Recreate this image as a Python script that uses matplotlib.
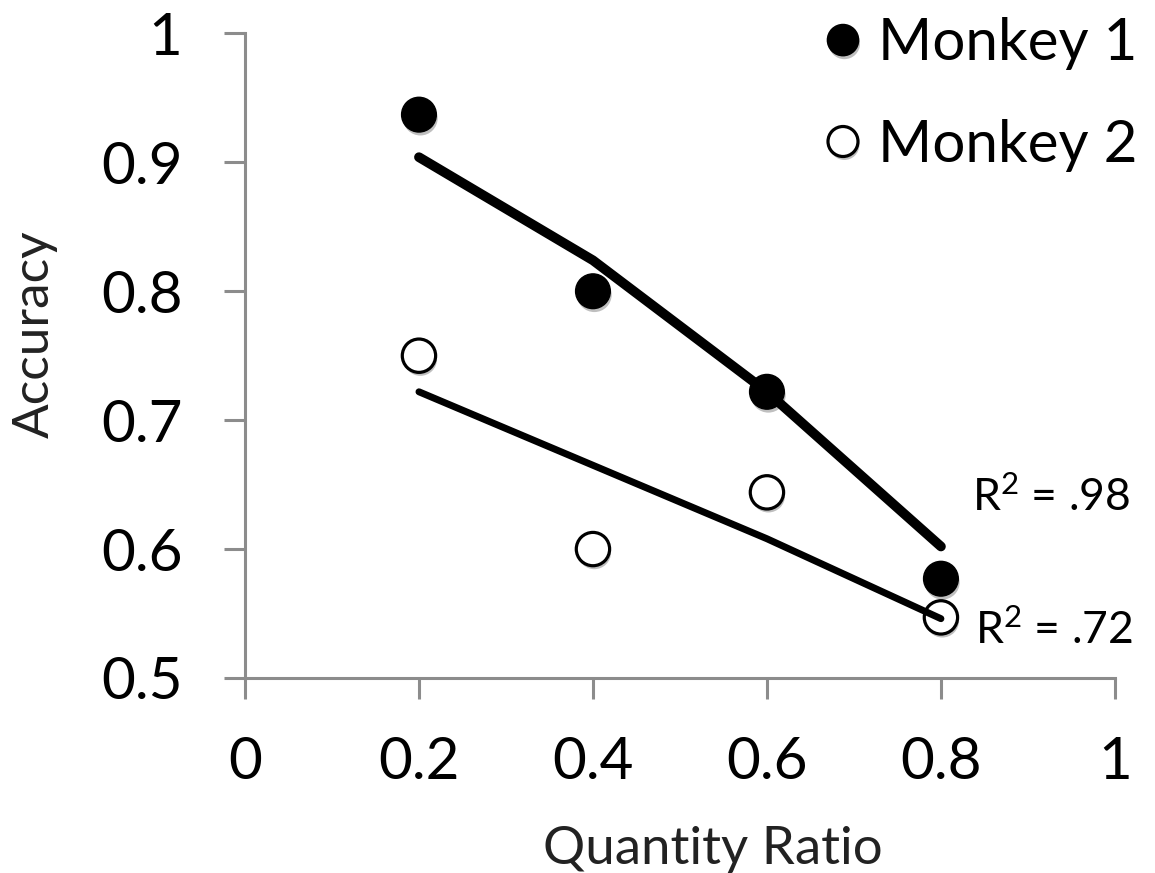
import matplotlib
matplotlib.use('Agg')
import matplotlib.pyplot as plt
import matplotlib.patheffects as pe

plt.rcParams['font.family'] = ['Lato', 'DejaVu Sans']
plt.rcParams['mathtext.fontset'] = 'custom'
plt.rcParams['mathtext.rm'] = 'Lato'
plt.rcParams['mathtext.it'] = 'Lato'
plt.rcParams['mathtext.default'] = 'rm'

ratios = [0.2, 0.4, 0.6, 0.8]
monkey1_acc = [0.937, 0.800, 0.722, 0.577]
monkey2_acc = [0.750, 0.600, 0.644, 0.547]
# fitted curves as drawn in the figure
monkey1_fit = [0.904, 0.824, 0.722, 0.602]
monkey2_fit = [0.722, 0.665, 0.608, 0.546]
r2_labels = [r'R$^{2}$ = .98', r'R$^{2}$ = .72']

x_ticks = [0, 0.2, 0.4, 0.6, 0.8, 1]
x_ticklabels = ['0', '0.2', '0.4', '0.6', '0.8', '1']
y_ticks = [0.5, 0.6, 0.7, 0.8, 0.9, 1]
y_ticklabels = ['0.5', '0.6', '0.7', '0.8', '0.9', '1']

grey = '#8c8c8c'
shadow = [pe.SimplePatchShadow(offset=(1.0, -2.5), shadow_rgbFace='k', alpha=0.25), pe.Normal()]

fig = plt.figure(figsize=(11.55, 8.73), dpi=100)
ax = fig.add_axes([0.2121, 0.2234, 0.7532, 0.7383])

ax.plot(ratios, monkey1_acc, 'o', ls='none', ms=25, mfc='black', mec='black', mew=1,
        label='Monkey 1', zorder=3, clip_on=False, path_effects=shadow)
ax.plot(ratios, monkey2_acc, 'o', ls='none', ms=24, mfc='white', mec='black', mew=2.3,
        label='Monkey 2', zorder=3, clip_on=False, path_effects=shadow)

ax.plot(ratios, monkey1_fit, '-', color='black', lw=7, solid_capstyle='round',
        solid_joinstyle='round', zorder=4)
ax.plot(ratios, monkey2_fit, '-', color='black', lw=5, solid_capstyle='round',
        solid_joinstyle='round', zorder=4)

ax.text(0.8356, 0.640, r2_labels[0], fontsize=32, va='center', ha='left')
ax.text(0.839, 0.537, r2_labels[1], fontsize=32, va='center', ha='left')

ax.set_xlim(0, 1)
ax.set_ylim(0.5, 1)
ax.set_xticks(x_ticks)
ax.set_xticklabels(x_ticklabels)
ax.set_yticks(y_ticks)
ax.set_yticklabels(y_ticklabels)

for s in ['top', 'right']:
    ax.spines[s].set_visible(False)
for s in ['left', 'bottom']:
    ax.spines[s].set_color(grey)
    ax.spines[s].set_linewidth(2.2)

ax.tick_params(axis='both', direction='out', length=15, width=2.2, color=grey, labelsize=42)
ax.tick_params(axis='y', pad=30)
ax.tick_params(axis='x', pad=27)

fig.text(0.617, 0.027, 'Quantity Ratio', fontsize=38, ha='center', va='center', color='#222222')
fig.text(0.03, 0.617, 'Accuracy', fontsize=37, ha='center', va='center', rotation=90, color='#222222')

leg = ax.legend(loc='upper right', bbox_to_anchor=(1.0, 1.0), bbox_transform=fig.transFigure,
                frameon=False, fontsize=42, markerscale=0.9, handlelength=0.6,
                handletextpad=0.3, labelspacing=0.83, borderpad=0.1, borderaxespad=0.2)

fig.savefig('out.png', dpi=100)
